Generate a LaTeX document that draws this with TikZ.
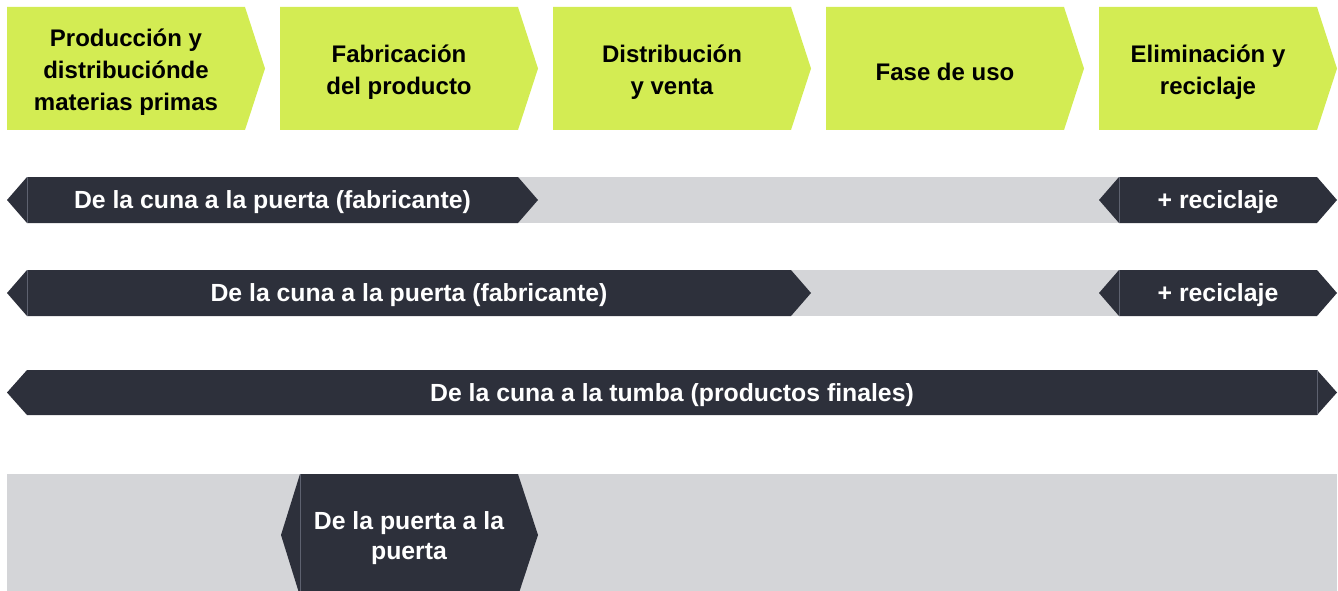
\documentclass[tikz,border=0pt]{standalone}
\usepackage{fontspec}
\setmainfont{Liberation Sans}
\definecolor{lime}{HTML}{D3EC53}
\definecolor{ink}{HTML}{2D303B}
\definecolor{band}{HTML}{D4D5D8}
\definecolor{seam}{HTML}{5E6270}
\begin{document}
\begin{tikzpicture}[x=1pt,y=-1pt,
  phase/.style={fill=lime},
  darkbar/.style={fill=ink},
  greyband/.style={fill=band},
  lbl/.style={font=\bfseries\fontsize{24}{32}\selectfont, align=center, text=black, inner sep=0pt},
  wlbl/.style={font=\bfseries\fontsize{24.8}{30}\selectfont, align=center, text=white, inner sep=0pt},
  seamline/.style={draw=seam, line width=0.6pt}]
\useasboundingbox (0,0) rectangle (1338,591);

% --- phase chevrons ---
\foreach \s in {7,280,553,826}{
  \fill[phase] (\s,7) -- (\s+238,7) -- (\s+258,68.5) -- (\s+238,130) -- (\s,130) -- cycle;
}
\fill[phase] (1099,7) -- (1317,7) -- (1337,68.5) -- (1317,130) -- (1099,130) -- cycle;

\node[lbl] (p1) at (126,72) {Producción y\\distribuciónde\\materias primas};
\node[lbl] (p2) at (399,72) {Fabricación\\del producto};
\node[lbl] (p3) at (672,72) {Distribución\\y venta};
\node[lbl] (p4) at (945,72) {Fase de uso};
\node[lbl] (p5) at (1208,72) {Eliminación y\\reciclaje};

% --- row 1 ---
\fill[greyband] (27,177) rectangle (1317,223);
\fill[darkbar] (7,200) -- (27,177) -- (518,177) -- (538,200) -- (518,223) -- (27,223) -- cycle;
\draw[seamline] (27,177) -- (27,223);
\fill[darkbar] (1099,200) -- (1119,177) -- (1317,177) -- (1337,200) -- (1317,223) -- (1119,223) -- cycle;
\draw[seamline] (1119,177) -- (1119,223);
\node[wlbl] (r1) at (272.5,202.5) {De la cuna a la puerta (fabricante)};
\node[wlbl] (r1b) at (1218,202.5) {+ reciclaje};

% --- row 2 ---
\fill[greyband] (27,270) rectangle (1317,316);
\fill[darkbar] (7,293) -- (27,270) -- (791,270) -- (811,293) -- (791,316) -- (27,316) -- cycle;
\draw[seamline] (27,270) -- (27,316);
\fill[darkbar] (1099,293) -- (1119,270) -- (1317,270) -- (1337,293) -- (1317,316) -- (1119,316) -- cycle;
\draw[seamline] (1119,270) -- (1119,316);
\node[wlbl] (r2) at (409,295.5) {De la cuna a la puerta (fabricante)};
\node[wlbl] (r2b) at (1218,295.5) {+ reciclaje};

% --- row 3 ---
\fill[darkbar] (7,392.5) -- (27,370) -- (1317,370) -- (1337,392.5) -- (1317,415) -- (27,415) -- cycle;
\draw[seamline] (1317,370) -- (1317,415);
\node[wlbl] (r3) at (672,395) {De la cuna a la tumba (productos finales)};

% --- row 4 ---
\fill[greyband] (7,474) rectangle (1337,591);
\fill[darkbar] (300,474) -- (518,474) -- (538,535) -- (519.6,591) -- (298.4,591) -- (281,535) -- cycle;
\draw[seamline] (300,474) -- (300,591);
\node[wlbl] (r4) at (409,538) {De la puerta a la\\puerta};
\end{tikzpicture}
\end{document}
